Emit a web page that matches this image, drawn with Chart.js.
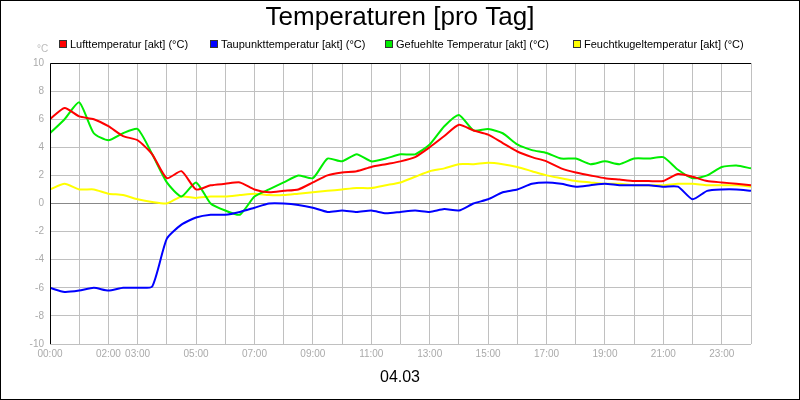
<!DOCTYPE html>
<html><head><meta charset="utf-8">
<script src="https://cdn.jsdelivr.net/npm/chart.js@4/dist/chart.umd.min.js"></script>
<style>body{margin:0;background:#fff}canvas{display:block}</style>
</head><body><canvas id="c" width="800" height="400"></canvas>
<script>
const hours = [0,0.5,1,1.5,2,2.5,3,3.5,4,4.5,5,5.5,6,6.5,7,7.5,8,8.5,9,9.5,10,10.5,11,11.5,12,12.5,13,13.5,14,14.5,15,15.5,16,16.5,17,17.5,18,18.5,19,19.5,20,20.5,21,21.5,22,22.5,23,23.5,24];
const luft = [6.0,6.8,6.2,6.0,5.5,4.8,4.5,3.5,1.8,2.3,1.0,1.3,1.4,1.5,1.0,0.8,0.9,1.0,1.5,2.0,2.2,2.3,2.6,2.8,3.0,3.3,4.0,4.8,5.6,5.2,4.9,4.3,3.7,3.3,3.0,2.5,2.2,2.0,1.8,1.7,1.6,1.6,1.6,2.1,1.9,1.6,1.5,1.4,1.3];
const tau = [-6.0,-6.3,-6.2,-6.0,-6.2,-6.0,-6.0,-5.9,-2.5,-1.5,-1.0,-0.8,-0.8,-0.6,-0.3,0,0,-0.1,-0.3,-0.6,-0.5,-0.6,-0.5,-0.7,-0.6,-0.5,-0.6,-0.4,-0.5,0,0.3,0.8,1.0,1.4,1.5,1.4,1.2,1.3,1.4,1.3,1.3,1.3,1.2,1.2,0.3,0.9,1.0,1.0,0.9];
const gef = [5.0,6.0,7.2,5.0,4.5,5.0,5.3,3.5,1.5,0.5,1.5,0.0,-0.5,-0.8,0.5,1.0,1.5,2.0,1.8,3.2,3.0,3.5,3.0,3.2,3.5,3.5,4.2,5.5,6.3,5.2,5.3,5.0,4.2,3.8,3.6,3.2,3.2,2.8,3.0,2.8,3.2,3.2,3.3,2.4,1.8,2.0,2.6,2.7,2.5];
const feucht = [1.0,1.4,1.0,1.0,0.7,0.6,0.3,0.1,0.0,0.5,0.4,0.5,0.5,0.6,0.7,0.6,0.6,0.7,0.8,0.9,1.0,1.1,1.1,1.3,1.5,1.9,2.3,2.5,2.8,2.8,2.9,2.8,2.6,2.3,2.0,1.8,1.6,1.5,1.4,1.4,1.3,1.3,1.3,1.4,1.4,1.3,1.3,1.3,1.2];
const seriesNames = ["Lufttemperatur [akt] (°C)","Taupunkttemperatur [akt] (°C)","Gefuehlte Temperatur [akt] (°C)","Feuchtkugeltemperatur [akt] (°C)"];
const seriesColors = ["#ff0000","#0000ff","#00ee00","#ffff00"];
const labeledHours = {0:"00:00",2:"02:00",3:"03:00",5:"05:00",7:"07:00",9:"09:00",11:"11:00",13:"13:00",15:"15:00",17:"17:00",19:"19:00",21:"21:00",23:"23:00"};
const title = "Temperaturen [pro Tag]";
const dateLabel = "04.03";

const mk = (arr) => hours.map((h,i)=>({x:h,y:arr[i]}));
const dataArr = [luft,tau,gef,feucht];

const deco = {
  id:'deco',
  afterDraw(ch){
    const c=ch.ctx, a=ch.chartArea;
    c.save();
    c.strokeStyle='#000';c.lineWidth=1;
    c.strokeRect(0.5,0.5,799,399);
    c.beginPath();c.moveTo(a.left+0.5,a.bottom);c.lineTo(a.left+0.5,a.top+0.5);c.lineTo(a.right,a.top+0.5);c.stroke();
    c.fillStyle='#000';c.textAlign='center';c.textBaseline='middle';
    c.font='26px "Liberation Sans", Arial';
    c.fillText(title,400,18);
    c.font='16px "Liberation Sans", Arial';
    c.fillText(dateLabel,400,378);
    c.font='11px "Liberation Sans", Arial';
    c.textAlign='left';
    const xs=[59,210,385,573];
    seriesNames.forEach((n,i)=>{
      c.fillStyle=seriesColors[i];c.fillRect(xs[i],40,8,8);
      c.strokeStyle='#333';c.strokeRect(xs[i]+0.5,40.5,7,7);
      c.fillStyle='#000';c.fillText(n,xs[i]+11,45);
    });
    c.fillStyle='#bbb';c.font='10px "Liberation Sans", Arial';
    c.fillText('°C',37,49);
    c.restore();
  }
};

new Chart(document.getElementById('c'),{
  type:'line',
  data:{datasets:dataArr.map((d,i)=>({label:seriesNames[i],data:mk(d),borderColor:seriesColors[i],borderWidth:2,pointRadius:0,tension:0.2,fill:false}))},
  options:{
    responsive:false,animation:false,
    layout:{padding:{top:63,right:49,left:0,bottom:0}},
    plugins:{legend:{display:false},title:{display:false},tooltip:{enabled:false}},
    scales:{
      x:{type:'linear',min:0,max:24,
        afterFit(s){s.height=56;},
        grid:{color:'#c0c0c0',drawTicks:false},border:{display:false},
        ticks:{stepSize:1,autoSkip:false,maxRotation:0,color:'#aaa',font:{size:10,family:'Liberation Sans'},padding:4,
          callback:v=>labeledHours[v]!==undefined?labeledHours[v]:''}},
      y:{min:-10,max:10,
        afterFit(s){s.width=50;},
        grid:{color:(ctx)=>ctx.tick&&ctx.tick.value===0?'#888':'#c0c0c0',drawTicks:false},border:{display:false},
        ticks:{stepSize:2,color:'#aaa',font:{size:10,family:'Liberation Sans'},padding:6}}
    }
  },
  plugins:[deco]
});
</script></body></html>
